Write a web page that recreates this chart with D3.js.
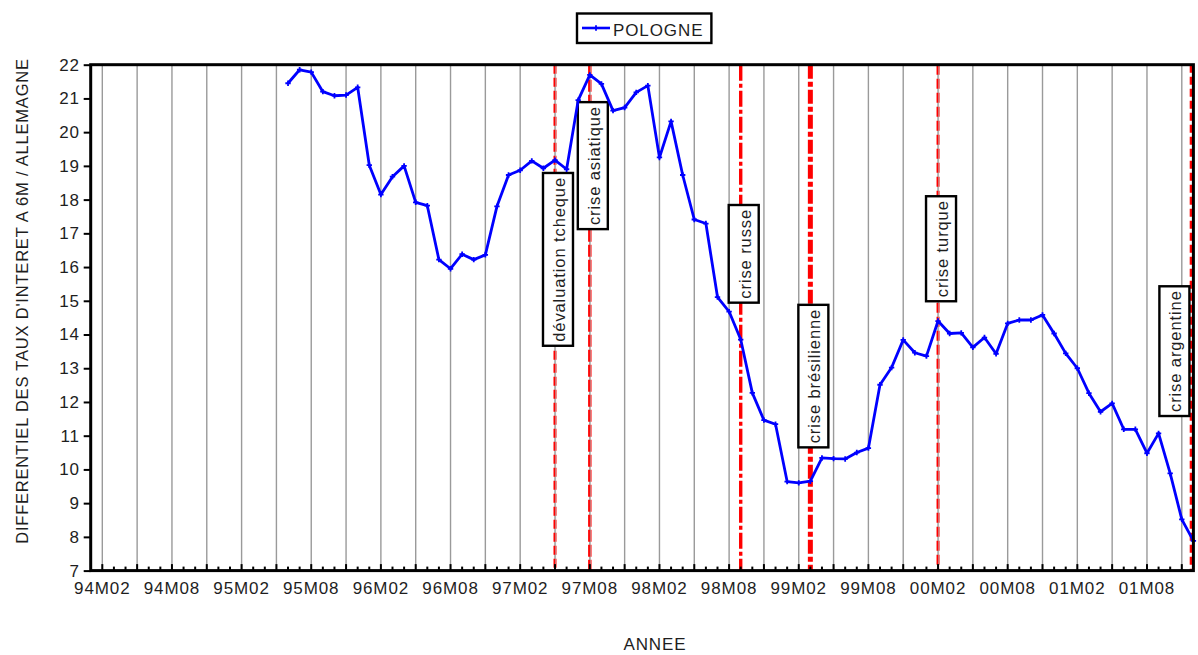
<!DOCTYPE html>
<html><head><meta charset="utf-8">
<script src="https://cdn.jsdelivr.net/npm/d3@7"></script>
<style>
html,body{margin:0;padding:0;background:#fff;}
svg{display:block;}
text{font-family:"Liberation Sans",Arial,Helvetica,sans-serif;fill:#1e1e1e;}
</style></head>
<body>
<svg id="chart" width="1198" height="655"></svg>
<script>
// ---------- data ----------
const seriesName = "POLOGNE";
const startMonth = "95M06";
const values = [
  21.45, 21.85, 21.78, 21.20, 21.08, 21.10, 21.33,            // 95M06-95M12
  19.02, 18.15, 18.68, 19.00, 17.92, 17.82, 16.22, 15.95, 16.38, 16.22, 16.36, 17.80, // 96
  18.73, 18.87, 19.15, 18.93, 19.17, 18.90, 20.95, 21.70, 21.43, 20.64, 20.73, 21.18, // 97
  21.38, 19.25, 20.32, 18.73, 17.41, 17.29, 15.11, 14.68, 13.85, 12.27, 11.46, 11.34, // 98
  9.64, 9.60, 9.65, 10.34, 10.32, 10.31, 10.50, 10.63, 12.51, 13.02, 13.84, 13.46,     // 99
  13.36, 14.40, 14.03, 14.05, 13.62, 13.91, 13.43, 14.33, 14.43, 14.43, 14.58, 14.03,  // 00
  13.44, 13.00, 12.26, 11.71, 11.96, 11.19, 11.19, 10.48, 11.07, 9.88, 8.52, 7.88      // 01
];
const xDomain = ["94M01", "01M12"];
const xTickLabels = ["94M02","94M08","95M02","95M08","96M02","96M08","97M02","97M08",
                     "98M02","98M08","99M02","99M08","00M02","00M08","01M02","01M08"];
const yTickValues = [7,8,9,10,11,12,13,14,15,16,17,18,19,20,21,22];
const eventMonths = ["97M05","97M08","98M09","99M03","00M02","01M12"];
const eventLabels = ["dévaluation tcheque","crise asiatique","crise russe","crise brésilienne","crise turque","crise argentine"];
const eventBoxTop = [18.79, 20.89, 17.84, 14.88, 18.10, 15.43];
const eventStyle = [
  {w:3,   dash:"9,4"},
  {w:3.4, dash:"12,3"},
  {w:3.4, dash:"16,3,4,3"},
  {w:5,   dash:"14,3,5,3"},
  {w:3,   dash:"10,4"},
  {w:2.4, dash:"8,4"}
];
const xAxisTitle = "ANNEE";
const yAxisTitle = "DIFFERENTIEL DES TAUX D'INTERET A 6M / ALLEMAGNE";

// ---------- helpers ----------
function monthIndex(s){ // "95M06" -> months since 94M01
  const yy = +s.slice(0,2), m = +s.slice(3);
  const year = yy < 50 ? 2000 + yy : 1900 + yy;
  return (year - 1994) * 12 + (m - 1);
}
const start = monthIndex(startMonth);
const data = values.map((v,i)=>({i: start + i, v}));

// ---------- layout ----------
const svg = d3.select("#chart");
const L = 90.7, R = 1193.4, T = 64.7, B = 570.6;
const x = d3.scaleLinear().domain(xDomain.map(monthIndex)).range([L, R]);
const y = d3.scaleLinear().domain([7, 22]).range([B, T]);

svg.append("rect").attr("width",1198).attr("height",655).attr("fill","#fff");

// gridlines every 3 months from 94M02
const gridIdx = d3.range(monthIndex("94M02"), monthIndex(xDomain[1]), 3);
const gridSet = new Set(gridIdx);
svg.append("g").selectAll("line").data(gridIdx).join("line")
  .attr("x1",d=>x(d)).attr("x2",d=>x(d)).attr("y1",T).attr("y2",B)
  .attr("stroke","#9a9a9a").attr("stroke-width",1.4);

// event lines
const ev = svg.append("g");
eventMonths.forEach((m,k)=>{
  const mi = monthIndex(m);
  const xx = Math.min(x(mi), R - 2.5);
  ev.append("line").attr("x1",xx).attr("x2",xx).attr("y1",T).attr("y2",B)
    .attr("stroke","#ff0000").attr("stroke-width",eventStyle[k].w)
    .attr("stroke-dasharray",eventStyle[k].dash);
  if (gridSet.has(mi)) {
    ev.append("line").attr("x1",xx+0.6).attr("x2",xx+0.6).attr("y1",T).attr("y2",B)
      .attr("stroke","#b0b0b0").attr("stroke-width",0.7);
  }
});

// event label boxes
const boxes = svg.append("g");
eventMonths.forEach((m,k)=>{
  const g = boxes.append("g");
  const t = g.append("text").text(eventLabels[k])
    .attr("font-size",16.5).attr("letter-spacing",0.9)
    .attr("text-anchor","middle").attr("dominant-baseline","central");
  const len = t.node().getComputedTextLength();
  const h = len + 8, w = 30;
  const cx = Math.min(x(monthIndex(m)) + 3, R - 4 - w/2);
  const top = y(eventBoxTop[k]);
  const cy = top + h/2;
  g.insert("rect","text").attr("x",cx-w/2).attr("y",top).attr("width",w).attr("height",h)
    .attr("fill","#fff").attr("stroke","#000").attr("stroke-width",2.4);
  t.attr("transform",`translate(${cx+1},${cy}) rotate(-90)`);
});

// series line
const line = d3.line().x(d=>x(d.i)).y(d=>y(d.v));
svg.append("path").datum(data).attr("d",line)
  .attr("fill","none").attr("stroke","#0000ff").attr("stroke-width",2.8)
  .attr("stroke-linejoin","round");
const sym = d3.symbol().type(d3.symbolCross).size(16);
svg.append("g").selectAll("path").data(data).join("path")
  .attr("d",sym).attr("transform",d=>`translate(${x(d.i)},${y(d.v)})`).attr("fill","#0000ff");

// y axis
const yAxis = svg.append("g").attr("transform",`translate(${L},0)`)
  .call(d3.axisLeft(y).tickValues(yTickValues).tickSize(7).tickPadding(4).tickFormat(d3.format("d")));
yAxis.select(".domain").remove();
yAxis.selectAll(".tick line").attr("stroke","#000").attr("stroke-width",2);
yAxis.selectAll(".tick text").attr("font-size",17).attr("letter-spacing",0.8)
  .attr("font-family","'Liberation Sans',Arial,sans-serif").attr("fill","#1e1e1e");

// x minor ticks (inside)
const allMonths = d3.range(monthIndex(xDomain[0]) + 1, monthIndex(xDomain[1]));
svg.append("g").selectAll("line").data(allMonths).join("line")
  .attr("x1",d=>x(d)).attr("x2",d=>x(d)).attr("y1",B)
  .attr("y2",d=>B - (gridSet.has(d) ? 6.5 : 4))
  .attr("stroke","#000").attr("stroke-width",2);

// x labels
svg.append("g").selectAll("text").data(xTickLabels).join("text")
  .attr("x",d=>x(monthIndex(d))).attr("y",593.5)
  .attr("text-anchor","middle").attr("font-size",17).attr("letter-spacing",0.9)
  .text(d=>d);

// frame
svg.append("rect").attr("x",L).attr("y",T).attr("width",R-L).attr("height",B-T)
  .attr("fill","none").attr("stroke","#000").attr("stroke-width",3);

// axis titles
svg.append("text").attr("x",655).attr("y",650).attr("text-anchor","middle")
  .attr("font-size",17).attr("letter-spacing",0.9).text(xAxisTitle);
svg.append("text").attr("transform","translate(22,301) rotate(-90)")
  .attr("text-anchor","middle").attr("dominant-baseline","central")
  .attr("font-size",16.5).attr("letter-spacing",0.8).text(yAxisTitle);

// legend
const lg = svg.append("g");
const lt = lg.append("text").attr("x",613).attr("y",35.5).attr("font-size",17)
  .attr("letter-spacing",0.9).text(seriesName);
const tw = lt.node().getComputedTextLength();
lg.insert("rect","text").attr("x",577).attr("y",13.5).attr("width",613 + tw + 8 - 577).attr("height",29.5)
  .attr("fill","#fff").attr("stroke","#000").attr("stroke-width",2.4);
lg.append("line").attr("x1",582).attr("x2",610).attr("y1",28).attr("y2",28)
  .attr("stroke","#0000ff").attr("stroke-width",2.6);
lg.append("path").attr("d",sym).attr("transform","translate(596,28)").attr("fill","#0000ff");
</script>
</body></html>
